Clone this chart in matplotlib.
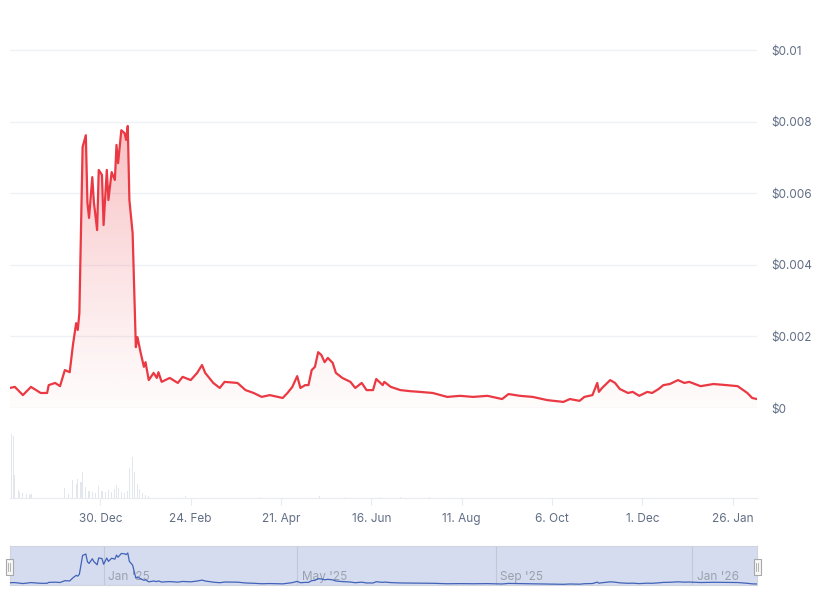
import matplotlib
matplotlib.use("Agg")
import matplotlib.pyplot as plt
import matplotlib.dates as mdates
from matplotlib.patches import Rectangle
import numpy as np
import pandas as pd

plt.rcParams['font.family'] = ['Inter', 'DejaVu Sans']

# ---------------- data ----------------
price_dates = [
    "2024-11-04", "2024-11-07", "2024-11-12", "2024-11-17", "2024-11-23", "2024-11-27",
    "2024-11-28", "2024-12-02", "2024-12-05", "2024-12-08", "2024-12-11", "2024-12-13",
    "2024-12-15", "2024-12-16", "2024-12-17", "2024-12-19", "2024-12-21", "2024-12-22",
    "2024-12-23", "2024-12-25", "2024-12-26", "2024-12-28", "2024-12-29", "2024-12-31",
    "2025-01-01", "2025-01-03", "2025-01-04", "2025-01-06", "2025-01-08", "2025-01-09",
    "2025-01-10", "2025-01-12", "2025-01-14", "2025-01-15", "2025-01-16", "2025-01-17",
    "2025-01-19", "2025-01-21", "2025-01-22", "2025-01-24", "2025-01-26", "2025-01-27",
    "2025-01-29", "2025-02-01", "2025-02-03", "2025-02-04", "2025-02-06", "2025-02-11",
    "2025-02-16", "2025-02-19", "2025-02-24", "2025-02-28", "2025-03-03", "2025-03-05",
    "2025-03-10", "2025-03-14", "2025-03-17", "2025-03-25", "2025-03-30", "2025-04-04",
    "2025-04-09", "2025-04-14", "2025-04-22", "2025-04-25", "2025-04-28", "2025-05-01",
    "2025-05-03", "2025-05-06", "2025-05-08", "2025-05-10", "2025-05-12", "2025-05-14",
    "2025-05-16", "2025-05-18", "2025-05-20", "2025-05-23", "2025-05-25", "2025-05-29",
    "2025-06-03", "2025-06-06", "2025-06-10", "2025-06-13", "2025-06-17", "2025-06-19",
    "2025-06-23", "2025-06-24", "2025-06-28", "2025-07-04", "2025-07-10", "2025-07-16",
    "2025-07-24", "2025-08-02", "2025-08-10", "2025-08-18", "2025-08-27", "2025-09-05",
    "2025-09-09", "2025-09-16", "2025-09-24", "2025-10-03", "2025-10-13", "2025-10-17",
    "2025-10-23", "2025-10-26", "2025-10-31", "2025-11-03", "2025-11-04", "2025-11-06",
    "2025-11-11", "2025-11-14", "2025-11-17", "2025-11-22", "2025-11-25", "2025-11-29",
    "2025-12-04", "2025-12-07", "2025-12-11", "2025-12-14", "2025-12-18", "2025-12-23",
    "2025-12-27", "2025-12-30", "2026-01-06", "2026-01-14", "2026-01-22", "2026-01-29",
    "2026-02-04", "2026-02-07", "2026-02-10",
]
price_values = [
    0.00056, 0.00059, 0.00036, 0.00059, 0.00042, 0.00042,
    0.00064, 0.00070, 0.00061, 0.00106, 0.00100, 0.00176,
    0.00237, 0.00218, 0.00265, 0.00729, 0.00762, 0.00573,
    0.00531, 0.00645, 0.00575, 0.00497, 0.00665, 0.00651,
    0.00511, 0.00665, 0.00581, 0.00659, 0.00637, 0.00735,
    0.00684, 0.00776, 0.00768, 0.00749, 0.00788, 0.00581,
    0.00489, 0.00170, 0.00198, 0.00154, 0.00115, 0.00128,
    0.00078, 0.00098, 0.00084, 0.00100, 0.00073, 0.00084,
    0.00070, 0.00087, 0.00078, 0.00098, 0.00120, 0.00098,
    0.00070, 0.00056, 0.00073, 0.00070, 0.00050, 0.00042,
    0.00031, 0.00036, 0.00028, 0.00042, 0.00059, 0.00089,
    0.00056, 0.00064, 0.00064, 0.00106, 0.00115, 0.00156,
    0.00148, 0.00128, 0.00140, 0.00126, 0.00098, 0.00084,
    0.00073, 0.00056, 0.00070, 0.00050, 0.00050, 0.00081,
    0.00064, 0.00073, 0.00059, 0.00050, 0.00047, 0.00045,
    0.00042, 0.00031, 0.00034, 0.00031, 0.00034, 0.00025,
    0.00039, 0.00034, 0.00031, 0.00022, 0.00017, 0.00025,
    0.00020, 0.00031, 0.00036, 0.00070, 0.00045, 0.00056,
    0.00078, 0.00070, 0.00053, 0.00042, 0.00045, 0.00034,
    0.00045, 0.00042, 0.00053, 0.00064, 0.00067, 0.00078,
    0.00070, 0.00073, 0.00061, 0.00067, 0.00064, 0.00061,
    0.00042, 0.00028, 0.00025,
]

volume_dates = [
    "2024-11-05", "2024-11-06", "2024-11-07", "2024-11-09", "2024-11-10", "2024-11-12",
    "2024-11-14", "2024-11-16", "2024-11-17",
    "2024-12-08", "2024-12-10", "2024-12-13", "2024-12-15", "2024-12-16", "2024-12-18",
    "2024-12-19", "2024-12-21", "2024-12-23", "2024-12-25", "2024-12-27", "2024-12-29",
    "2024-12-31", "2025-01-02", "2025-01-04", "2025-01-06", "2025-01-08", "2025-01-09",
    "2025-01-10", "2025-01-12", "2025-01-14", "2025-01-16", "2025-01-17", "2025-01-19",
    "2025-01-20", "2025-01-22", "2025-01-23", "2025-01-25", "2025-01-27", "2025-01-29",
    "2025-02-21", "2025-04-08", "2025-05-15", "2025-05-31", "2025-06-21", "2025-07-04",
    "2025-07-22",
]
volume_values = [
    64, 62, 23, 8, 6, 5,
    4, 3, 4,
    10, 4, 18, 14, 19, 16,
    26, 11, 7, 6, 5, 12,
    7, 6, 8, 6, 9, 13,
    10, 6, 5, 7, 30, 41,
    26, 14, 9, 5, 3, 2,
    2, 1.5, 2, 1.5, 1, 1,
    1,
]

x_tick_dates = ["2024-12-30", "2025-02-24", "2025-04-21", "2025-06-16",
                "2025-08-11", "2025-10-06", "2025-12-01", "2026-01-26"]
x_tick_labels = ["30. Dec", "24. Feb", "21. Apr", "16. Jun",
                 "11. Aug", "6. Oct", "1. Dec", "26. Jan"]
y_ticks = [0, 0.002, 0.004, 0.006, 0.008, 0.01]
y_tick_labels = ["$0", "$0.002", "$0.004", "$0.006", "$0.008", "$0.01"]
nav_tick_dates = ["2025-01-01", "2025-05-01", "2025-09-01", "2026-01-01"]
nav_tick_labels = ["Jan '25", "May '25", "Sep '25", "Jan '26"]

# ---------------- prepare ----------------
pdates = pd.to_datetime(price_dates)
px = mdates.date2num(pdates)
py = np.array(price_values)
vx = mdates.date2num(pd.to_datetime(volume_dates))
vy = np.array(volume_values)
xmin, xmax = px[0], px[-1]

RED = "#ea3943"
GRID = "#eff2f5"
LABEL = "#616e85"

W, H = 822, 600
fig = plt.figure(figsize=(W / 100, H / 100), dpi=100)

def ax_rect(x0, y0, x1, y1):
    return [x0 / W, 1 - y1 / H, (x1 - x0) / W, (y1 - y0) / H]

# ---------------- price axes ----------------
ax = fig.add_axes(ax_rect(10, 30, 757, 408))
ymax = 0.01056
ax.set_xlim(xmin, xmax)
ax.set_ylim(0, ymax)
for s in ax.spines.values():
    s.set_visible(False)
ax.set_yticks(y_ticks)
ax.yaxis.tick_right()
ax.set_yticklabels(y_tick_labels, color=LABEL, fontsize=8.5)
ax.tick_params(axis='y', length=0, pad=10.5)
ax.set_xticks([])
ax.grid(axis='y', color=GRID, linewidth=1)
ax.set_axisbelow(True)

poly = ax.fill_between(px, py, 0, color='none', linewidth=0)
grad = np.linspace(0.0, 1.0, 256).reshape(-1, 1)
rgba = np.zeros((256, 1, 4))
rgba[..., 0] = 234 / 255
rgba[..., 1] = 57 / 255
rgba[..., 2] = 67 / 255
rgba[..., 3] = (0.02 + 0.30 * grad ** 1.2)
img = ax.imshow(rgba, extent=[xmin, xmax, 0, 0.0079], origin='lower',
                aspect='auto', zorder=1, interpolation='bilinear')
img.set_clip_path(poly.get_paths()[0], transform=ax.transData)
ax.set_xlim(xmin, xmax)
ax.set_ylim(0, ymax)
ax.plot(px, py, color=RED, linewidth=1.6, zorder=3, solid_joinstyle='round')

# ---------------- volume axes ----------------
vax = fig.add_axes(ax_rect(10, 432, 757, 498))
vax.bar(vx, vy, width=0.7, color="#e2e7ed", linewidth=0)
vax.set_xlim(xmin, xmax)
vax.set_ylim(0, 66)
for s in ['top', 'right', 'left']:
    vax.spines[s].set_visible(False)
vax.spines['bottom'].set_color("#e8ebef")
vax.set_yticks([])
vax.set_xticks(mdates.date2num(pd.to_datetime(x_tick_dates)))
vax.set_xticklabels(x_tick_labels, color=LABEL, fontsize=8.5)
vax.tick_params(axis='x', length=5, color="#e8ebef", pad=6)

# ---------------- navigator ----------------
nax = fig.add_axes(ax_rect(10, 546, 757, 585))
nax.set_facecolor("#d5dcef")
nax.set_xlim(xmin, xmax)
nax.set_ylim(0, 0.0096)
nax.plot(px, py, color="#4162b8", linewidth=0.9, zorder=3)
nav_x = mdates.date2num(pd.to_datetime(nav_tick_dates))
for xv, lab in zip(nav_x, nav_tick_labels):
    nax.axvline(xv, color="#c2c8d6", linewidth=0.8, zorder=1)
    nax.text(xv + 3, 0.0006, lab, color="#9aa1ad", fontsize=8.5,
             va='bottom', ha='left', zorder=2)
nax.set_xticks([])
nax.set_yticks([])
for s in nax.spines.values():
    s.set_color("#cfd4de")
    s.set_linewidth(0.8)

# handles
for hx in (9, 757):
    r = Rectangle(((hx - 3.5) / W, 1 - 575 / H), 7 / W, 16 / H,
                  transform=fig.transFigure, facecolor="#f7f7f7",
                  edgecolor="#a8a8a8", linewidth=0.8, zorder=10)
    fig.add_artist(r)
    for dx in (-1, 1):
        fig.add_artist(plt.Line2D([(hx + dx) / W] * 2,
                                  [1 - 571 / H, 1 - 563 / H],
                                  transform=fig.transFigure,
                                  color="#a8a8a8", linewidth=0.6, zorder=11))

fig.savefig("out.png", dpi=100)
